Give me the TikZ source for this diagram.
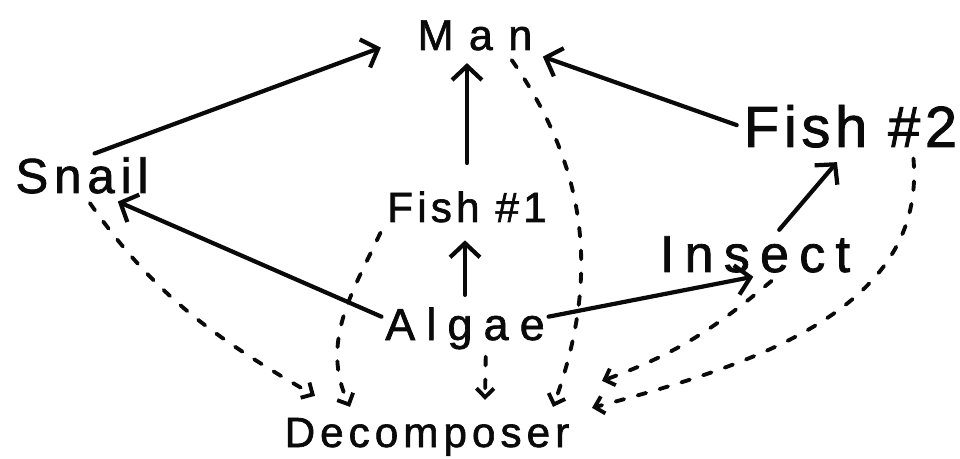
\documentclass[tikz,border=0pt]{standalone}
\usepackage{fontspec}
\usetikzlibrary{arrows.meta,calc}
\newfontfamily\handfont{Liberation Sans}[FakeBold=1.5]
\newcommand\wordfont[2]{\handfont\addfontfeatures{LetterSpace=#2}\fontsize{#1}{#1}\selectfont}
\definecolor{ink}{RGB}{10,10,10}

\begin{document}
\begin{tikzpicture}[x=0.02cm, y=-0.02cm,
  word/.style={inner sep=2pt, text=ink},
  eats/.style={draw=ink, line width=2.4pt, line cap=round,
    -{Straight Barb[length=8pt,width=17pt]}},
  rots/.style={draw=ink, line width=2.2pt, line cap=round,
    dash pattern=on 5pt off 8pt, -{Straight Barb[length=5pt,width=10pt]}}]
% canvas: 960 x 459 px, 1px = 0.02cm, y grows downwards
\useasboundingbox (0,0) rectangle (960,459);

% ---- organisms ----
\node[word, font=\wordfont{24.5}{36}, anchor=base] (man) at (475,50) {Man};
\node[word, font=\wordfont{28}{12}, anchor=base] (snail) at (82,193) {Snail};
\node[word, font=\wordfont{24}{10}, anchor=base] (fish1) at (467,222) {Fish \#1};
\node[word, font=\wordfont{33}{8}, anchor=base west] (fish2) at (740,147) {Fish \#2};
\node[word, font=\wordfont{29.5}{20}, anchor=base] (insect) at (755,272) {Insect};
\node[word, font=\wordfont{25.5}{25}, anchor=base] (algae) at (465,340) {Algae};
\node[word, font=\wordfont{24}{12}, anchor=base] (decomp) at (427,447) {Decomposer};

% ---- where the dashed lines land on the decomposer ----
\foreach \c/\dx/\dy in {ds/-112/-41, df/-77/-30, da/58/-37, dm/126/-30, di/175/-56, dw/165/-29}{
  \coordinate (\c) at ($(decomp)+(\dx,\dy)$);
}

% ---- who eats whom (solid) ----
\draw[eats, shorten >=20pt] (snail.60) -- (man.west);
\draw[eats, shorten <=14pt, shorten >=5pt] (fish1.north) -- (fish1.north |- man.south);
\draw[eats, shorten <=2pt, shorten >=4pt] (fish2.west) -- (man.south east);
\draw[eats, shorten >=6pt] (algae.172) -- (snail.-40);
\draw[eats, shorten <=5pt, shorten >=8pt] (algae.north) -- (algae.north |- fish1.south);
\draw[eats, shorten >=1pt] (algae.8) -- (insect.south);
\draw[eats, shorten <=2pt, shorten >=8pt] (insect.45) -- (fish2.-100);

% ---- decay (dashed) ----
\draw[rots, shorten <=4pt] (snail.-80) to[out=-55, in=150] (ds);
\draw[rots, shorten <=4pt] (fish1.south west) to[out=-115, in=115] (df);
\draw[rots, shorten <=4pt] (man.-30) to[out=-55, in=70] (dm);
\draw[rots, shorten <=2pt] (algae.-50) -- (da);
\draw[rots, shorten <=4pt] (insect.-45) to[out=-140, in=20] (di);
\draw[rots, shorten <=4pt] (fish2.-22) to[out=-85, in=15] (dw);
\end{tikzpicture}
\end{document}
